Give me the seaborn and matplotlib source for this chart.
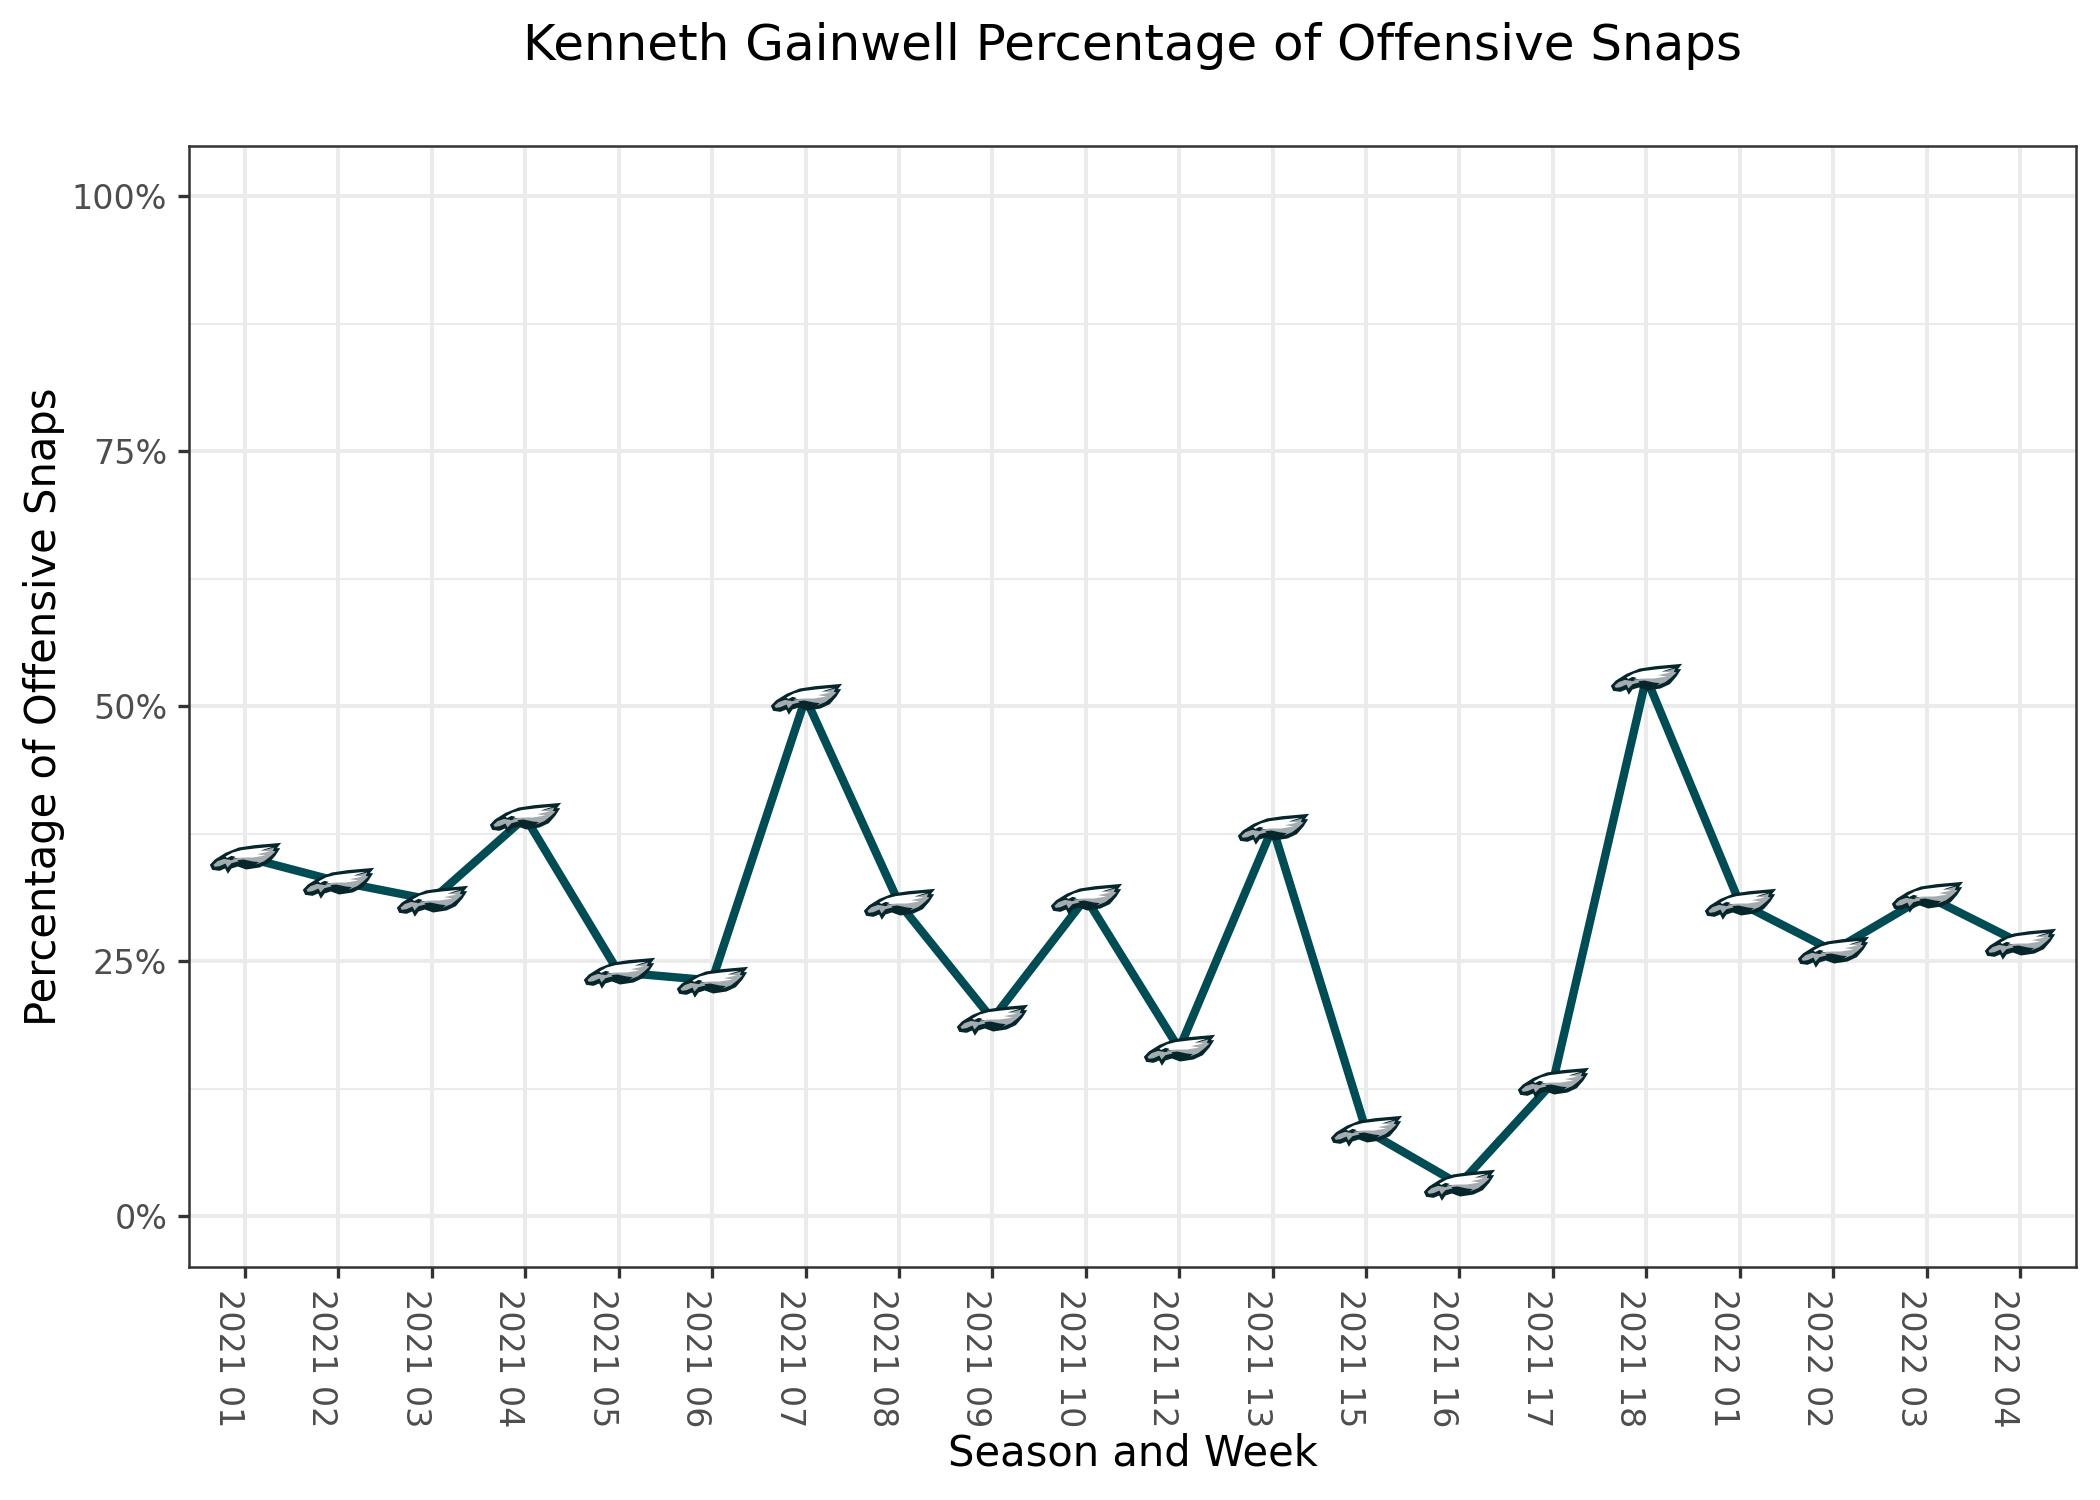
import pandas as pd
import seaborn as sns
import matplotlib.pyplot as plt
from matplotlib.path import Path
from matplotlib.ticker import FuncFormatter, MultipleLocator

# values
weeks = ["2021 01", "2021 02", "2021 03", "2021 04", "2021 05", "2021 06", "2021 07",
         "2021 08", "2021 09", "2021 10", "2021 12", "2021 13", "2021 15", "2021 16",
         "2021 17", "2021 18", "2022 01", "2022 02", "2022 03", "2022 04"]
snap_pct = [35.2, 32.8, 31.0, 39.1, 23.9, 23.1, 50.8, 30.7, 19.3, 31.2,
            16.4, 38.1, 8.4, 3.1, 13.1, 52.8, 30.7, 26.0, 31.4, 26.8]

df = pd.DataFrame({"week": weeks, "pct": snap_pct})

sns.set_theme(style="whitegrid", rc={
    "font.family": "DejaVu Sans",
    "grid.color": "#ebebeb",
    "axes.edgecolor": "#333333",
    "axes.linewidth": 0.6,
    "text.color": "black",
    "axes.labelcolor": "black",
})


def logo_marker(points):
    # the (110, 0) anchor keeps every layer at the same scale once matplotlib normalises it
    verts = [(110, 0)] + [(x, -y) for x, y in points] + [(points[0][0], -points[0][1])]
    codes = [Path.MOVETO, Path.MOVETO] + [Path.LINETO] * (len(points) - 1) + [Path.CLOSEPOLY]
    return Path(verts, codes)


# rough eagle head logo, one polygon per colour
logo_layers = [
    ("#06262b", [(-107, 22), (-92, 6), (-60, -14), (-20, -30), (27, -37), (107, -44), (94, -28),
                 (104, -28), (90, -6), (70, 17), (42, 30), (2, 36), (-23, 27), (-42, 33),
                 (-53, 49), (-61, 33), (-78, 40), (-100, 37)]),
    ("#a5acaf", [(-96, 22), (-84, 11), (-64, 4), (-44, 8), (-24, 2), (10, -10), (86, -30),
                 (82, -20), (90, -18), (74, -3), (56, 11), (34, 20), (6, 22), (-22, 12),
                 (-42, 17), (-54, 30), (-60, 18), (-78, 26), (-92, 28)]),
    ("#ffffff", [(-60, -3), (-38, -15), (-12, -22), (28, -27), (80, -32), (46, -21),
                 (72, -18), (34, -10), (60, -6), (22, 0), (-6, 0), (-30, 2), (-50, 6)]),
    ("#06262b", [(-24, 8), (-6, 6), (22, 12), (40, 14), (30, 22), (4, 27), (-16, 20)]),
    ("#06262b", [(-58, 3), (-42, -5), (-30, -2), (-42, 8)]),
]

fig, ax = plt.subplots(figsize=(7, 5), dpi=300)

sns.lineplot(data=df, x="week", y="pct", sort=False, color="#004c54", linewidth=2.0, ax=ax, zorder=3)
for z, (col, pts) in enumerate(logo_layers):
    sns.scatterplot(data=df, x="week", y="pct", marker=logo_marker(pts), s=310, color=col,
                    linewidth=0, ax=ax, zorder=4 + z)

ax.set_xlim(-0.6, 19.6)
ax.set_ylim(-5, 105)
ax.yaxis.set_major_locator(MultipleLocator(25))
ax.yaxis.set_minor_locator(MultipleLocator(12.5))
ax.yaxis.set_major_formatter(FuncFormatter(lambda v, _: f"{v:.0f}%"))
ax.grid(True, which="major", linewidth=0.95)
ax.grid(True, which="minor", axis="y", linewidth=0.5)
ax.set_axisbelow(True)

ax.tick_params(axis="both", which="major", length=2.7, width=0.8, color="#333333",
               labelcolor="#4d4d4d", labelsize=8, pad=2.5, left=True, bottom=True)
ax.tick_params(axis="y", which="minor", length=0)
for lab in ax.get_xticklabels():
    lab.set_rotation(270)
    lab.set_ha("right")
    lab.set_va("top")

ax.set_xlabel("Season and Week", fontsize=10, labelpad=1.3)
ax.set_ylabel("Percentage of Offensive Snaps", fontsize=10, labelpad=1.7)
ax.set_title("Kenneth Gainwell Percentage of Offensive Snaps", fontsize=12, pad=20.5)

fig.subplots_adjust(left=189 / 2100, right=2076 / 2100, top=1 - 145.5 / 1500, bottom=1 - 1267 / 1500)
fig.savefig("out.png", dpi=300)
